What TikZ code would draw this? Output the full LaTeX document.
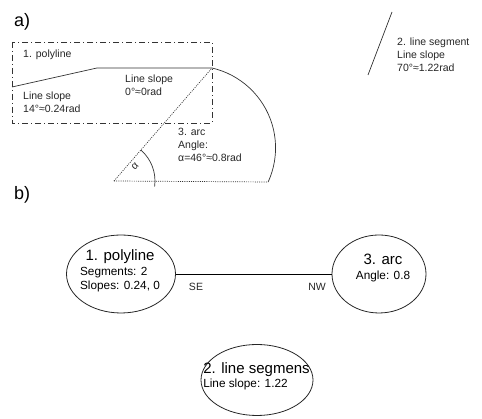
\documentclass[tikz,border=0pt]{standalone}
\usepackage{fontspec}
\setmainfont{Liberation Sans}
\usetikzlibrary{shapes.geometric}
\newcommand{\elltitle}[1]{{\fontsize{15}{15}\selectfont #1}}
\begin{document}
\begin{tikzpicture}[x=1pt,y=1pt,
  ink/.style={draw=black!80, line width=0.7pt},
  dashdotbox/.style={draw=black!80, line width=0.7pt, dash pattern=on 6pt off 3pt on 1pt off 3pt},
  dotline/.style={draw=black!80, line width=0.7pt, dash pattern=on 1pt off 1.2pt},
  smalltxt/.style={font=\fontsize{10.5}{13}\selectfont, text=black!85, align=left, inner sep=0pt, anchor=north west},
  head/.style={font=\fontsize{18}{20}\selectfont, inner sep=0pt, anchor=west},
  ellnode/.style={ellipse, draw=black!85, line width=0.8pt, inner sep=0pt},
  elltxt/.style={inner sep=0pt, text=black, font=\fontsize{11.8}{14.5}\selectfont},
  edgelab/.style={font=\fontsize{10.5}{12}\selectfont, inner sep=0pt, text=black!85}
]
\useasboundingbox (0,0) rectangle (482,419);

% ---------- a) ----------
\node[head] (ha) at (14,397) {a)};

\draw[dashdotbox] (12,377) rectangle (212,296);
\coordinate (p1) at (12,332);
\coordinate (p2) at (97,351);
\coordinate (p3) at (212,351);
\draw[ink] (p1) -- (p2) -- (p3);

\node[smalltxt] (tpoly) at (23,369) {1. polyline};
\node[smalltxt] (tsl1) at (23,327) {Line slope\\14°≈0.24rad};
\node[smalltxt] (tsl2) at (125,344) {Line slope\\0°≈0rad};

% arc
\coordinate (apex) at (114,238);
\coordinate (arcend) at (268.1,237);
\draw[ink] (p3) arc[start angle=77, end angle=-24.5, radius=82];
\draw[dotline] (apex) -- (p3);
\draw[dotline] (apex) -- (arcend);
\draw[ink] ([shift={(49:41)}]apex) arc[start angle=49, end angle=-8, radius=41];
\node[inner sep=0pt, font=\fontsize{10.5}{12}\selectfont, rotate=45, text=black!85] (alab) at (135,253) {α};
\node[smalltxt] (tarc) at (178,291) {3. arc\\Angle:\\α=46°≈0.8rad};

% line segment
\coordinate (s1) at (392,407);
\coordinate (s2) at (368,344);
\draw[ink] (s1) -- (s2);
\node[smalltxt] (tseg) at (397,381) {2. line segment\\Line slope\\70°≈1.22rad};

% ---------- b) ----------
\node[head] (hb) at (14,224) {b)};

\node[ellnode, minimum width=109, minimum height=78] (e1) at (121,145) {};
\node[ellnode, minimum width=94, minimum height=78] (e3) at (379,145) {};
\node[ellnode, minimum width=112, minimum height=71] (e2) at (257,39) {};

\node[elltxt] (t1) at (120,147)
  {\begin{tabular}{@{}l@{}}\multicolumn{1}{@{}c@{}}{\elltitle{1. polyline}}\\ Segments: 2\\ Slopes: 0.24, 0\end{tabular}};
\node[elltxt] (t3) at (383,150)
  {\begin{tabular}{@{}c@{}}\elltitle{3. arc}\\ Angle: 0.8\end{tabular}};
\node[elltxt] (t2) at (256.5,42)
  {\begin{tabular}{@{}l@{}}\elltitle{2. line segmens}\\ Line slope: 1.22\end{tabular}};

\draw[draw=black, line width=0.8pt] (e1.east) -- (e3.west);
\node[edgelab] (lse) at (196,132) {SE};
\node[edgelab] (lnw) at (317,132) {NW};
\end{tikzpicture}
\end{document}
